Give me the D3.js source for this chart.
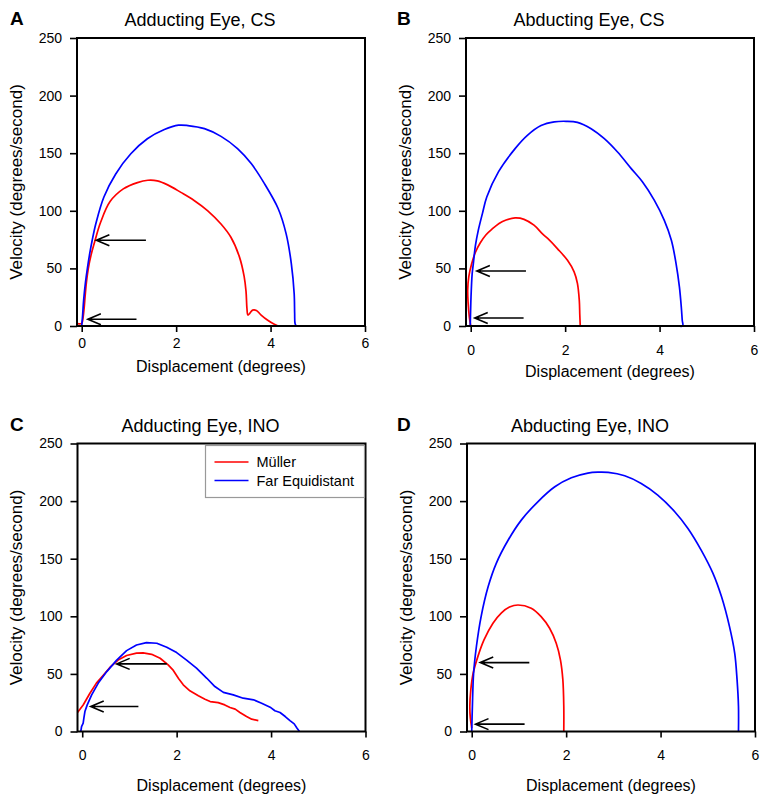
<!DOCTYPE html>
<html>
<head>
<meta charset="utf-8">
<script src="https://cdn.jsdelivr.net/npm/d3@7"></script>
<style>
  body { margin: 0; background: #fff; }
  svg { font-family: "Liberation Sans", Arial, sans-serif; }
</style>
</head>
<body>
<svg id="chart" width="768" height="804"></svg>
<script>
var xTicks = [0, 2, 4, 6];
var yTicks = [0, 50, 100, 150, 200, 250];
var seriesNames = ["Müller", "Far Equidistant"];
var seriesColors = ["#ff0000", "#0000ff"];

// [displacement, velocity]
var adductCsMuller = [[-0.1,2],[0,2.3],[0.02,5],[0.05,15],[0.07,25],[0.1,38],[0.14,50],[0.2,62],[0.28,74],[0.4,90],[0.6,108],[0.88,119],[1.18,124.5],[1.4,126.5],[1.6,126],[1.82,122.5],[2.1,116],[2.38,109],[2.67,100],[2.95,88.5],[3.16,77],[3.34,60],[3.44,43],[3.48,30],[3.5,15],[3.52,9.5],[3.56,11],[3.62,13.8],[3.7,13.5],[3.8,9.5],[3.94,5],[4.08,1.5],[4.16,0]];
var adductCsFar = [[0,0],[0.02,10],[0.04,22],[0.08,38],[0.12,50],[0.17,63],[0.22,74],[0.3,89],[0.47,112],[0.72,132],[1.04,149.5],[1.39,162.5],[1.75,170.5],[2.05,174.3],[2.25,174],[2.6,171.3],[2.95,164.6],[3.3,154],[3.59,141],[3.87,123.6],[4.16,102],[4.33,80],[4.44,54],[4.5,28],[4.51,11],[4.52,2],[4.55,0],[4.62,0]];

var abductCsMuller = [[0,0],[-0.03,8],[-0.055,20],[-0.064,31],[-0.04,43],[0.02,54],[0.1,64],[0.2,72],[0.32,79],[0.45,84],[0.6,89],[0.75,92],[0.94,93.8],[1.13,92.6],[1.34,87.5],[1.52,80],[1.63,76],[1.84,67],[2.05,57],[2.19,47],[2.26,37],[2.3,22],[2.31,10],[2.32,0]];
var abductCsFar = [[-0.01,0],[0.006,25],[0.03,45],[0.055,54],[0.1,70],[0.16,83],[0.25,98],[0.34,112],[0.59,134],[0.94,154],[1.2,165.5],[1.49,174],[1.77,177.2],[2.02,177.7],[2.26,176.8],[2.55,171.3],[2.83,162.6],[3.11,151],[3.4,136.6],[3.64,125],[3.89,109],[4.1,91.7],[4.25,74.4],[4.35,54],[4.42,34],[4.46,16.5],[4.48,5],[4.49,0],[4.39,0]];

var adductInoMuller = [[-0.1,16.5],[0.02,23],[0.16,33],[0.3,42],[0.45,49],[0.59,55.8],[0.76,62],[0.94,66],[1.15,68],[1.29,68.2],[1.47,67],[1.65,63.6],[1.82,57.8],[1.93,53],[2.04,46],[2.14,40.5],[2.28,35.3],[2.46,31],[2.6,28],[2.71,26],[2.88,25.1],[3.02,23.1],[3.13,20.8],[3.24,19.4],[3.34,16.5],[3.48,13],[3.59,10.7],[3.73,9.5]];
var adductInoFar = [[-0.03,0],[-0.014,4.3],[0.02,7.2],[0.035,11.6],[0.057,17.3],[0.106,23.1],[0.2,31.8],[0.34,42],[0.52,52],[0.73,62],[0.94,70.2],[1.15,75.1],[1.36,77.2],[1.58,76.6],[1.79,73.1],[2.0,68.5],[2.21,62],[2.42,55],[2.64,46.2],[2.81,39],[2.99,34],[3.2,31.8],[3.41,28.9],[3.63,27.5],[3.8,24.6],[3.98,21.1],[4.08,18],[4.19,16.5],[4.3,13],[4.4,9.5],[4.49,6.6],[4.54,3.5],[4.6,0]];

var abductInoMuller = [[0,3],[-0.03,12],[-0.04,22],[-0.02,36],[0.03,50.6],[0.13,65],[0.26,79.5],[0.45,94],[0.63,103],[0.8,108],[0.98,109.8],[1.26,107],[1.47,99.7],[1.65,89.6],[1.79,76.6],[1.88,62],[1.93,45],[1.95,22],[1.95,0]];
var abductInoFar = [[0,0],[0.014,21.7],[0.04,50.6],[0.1,74],[0.2,100],[0.35,126],[0.52,146],[0.77,166],[1.05,183.5],[1.4,199.4],[1.76,212.4],[2.11,220.2],[2.46,224.3],[2.67,225.1],[2.89,224.9],[3.24,222],[3.59,215.3],[3.94,205.2],[4.3,190.8],[4.58,176.3],[4.86,157.5],[5.11,137.3],[5.29,117.1],[5.46,91],[5.57,68],[5.62,45],[5.65,22],[5.65,0]];

// arrows: [tip displacement, velocity, tail displacement]
var arrowsA = [[0.31,74.4,1.36],[0.13,5.8,1.16]];
var arrowsB = [[0.13,47.7,1.17],[0.085,6.9,1.12]];
var arrowsC = [[0.73,58.7,1.79],[0.18,21.7,1.19]];
var arrowsD = [[0.18,59.8,1.22],[0.08,6.4,1.12]];

var panels = [
  {letter: "A", title: "Adducting Eye, CS", series: [adductCsMuller, adductCsFar], arrows: arrowsA,
   left: 77, top: 38, xPad: 6, xLabelY: 46, legend: false, curve: true},
  {letter: "B", title: "Abducting Eye, CS", series: [abductCsMuller, abductCsFar], arrows: arrowsB,
   left: 466, top: 38, xPad: 13, xLabelY: 51, legend: false, curve: true},
  {letter: "C", title: "Adducting Eye, INO", series: [adductInoMuller, adductInoFar], arrows: arrowsC,
   left: 77.5, top: 443.5, xPad: 13, xLabelY: 59, legend: true, curve: false},
  {letter: "D", title: "Abducting Eye, INO", series: [abductInoMuller, abductInoFar], arrows: arrowsD,
   left: 467, top: 443.5, xPad: 13, xLabelY: 59, legend: false, curve: true}
];

var w = 288, h = 288;
var svg = d3.select("#chart");

panels.forEach(function(p) {
  var x = d3.scaleLinear().domain([-0.1, 6]).range([0, w]);
  var y = d3.scaleLinear().domain([0, 250]).range([h, 0]);
  var g = svg.append("g").attr("transform", "translate(" + p.left + "," + p.top + ")");

  // panel letter and title
  g.append("text")
    .attr("x", p.left < 200 ? 10 - p.left : 397 - p.left)
    .attr("y", -13)
    .attr("font-size", 19).attr("font-weight", "bold")
    .text(p.letter);
  g.append("text")
    .attr("x", 123).attr("y", -12)
    .attr("text-anchor", "middle")
    .attr("font-size", 18)
    .text(p.title);

  // curves
  var line = d3.line()
    .x(function(d) { return x(d[0]); })
    .y(function(d) { return y(d[1]); })
    .curve(p.curve ? d3.curveCatmullRom.alpha(0.5) : d3.curveLinear);

  p.series.forEach(function(s, i) {
    g.append("path")
      .datum(s)
      .attr("d", line)
      .attr("fill", "none")
      .attr("stroke", seriesColors[i])
      .attr("stroke-width", 1.7)
      .attr("stroke-linejoin", "round");
  });

  // arrows
  var ag = g.append("g").attr("stroke", "#000").attr("stroke-width", 1.6).attr("fill", "none");
  p.arrows.forEach(function(a) {
    var tx = x(a[0]), ty = y(a[1]), ex = x(a[2]);
    ag.append("path")
      .attr("d", "M" + ex + "," + ty + "L" + tx + "," + ty +
        "M" + (tx + 13) + "," + (ty - 5.5) + "L" + tx + "," + ty + "L" + (tx + 13) + "," + (ty + 5.5));
  });

  // axes
  var yAxis = g.append("g")
    .call(d3.axisLeft(y).tickValues(yTicks).tickSize(7).tickPadding(8).tickFormat(d3.format("d")));
  var xAxis = g.append("g")
    .attr("transform", "translate(0," + h + ")")
    .call(d3.axisBottom(x).tickValues(xTicks).tickSize(6).tickPadding(p.xPad).tickFormat(d3.format("d")));
  [yAxis, xAxis].forEach(function(ax) {
    ax.select(".domain").remove();
    ax.selectAll("line").attr("stroke", "#000").attr("stroke-width", 1.6);
    ax.selectAll("text").attr("font-size", 14).attr("fill", "#000")
      .attr("font-family", "\"Liberation Sans\", Arial, sans-serif");
  });

  // frame
  g.append("rect")
    .attr("width", w).attr("height", h)
    .attr("fill", "none").attr("stroke", "#000").attr("stroke-width", 2);

  // axis labels
  g.append("text")
    .attr("x", w / 2).attr("y", h + p.xLabelY)
    .attr("text-anchor", "middle").attr("font-size", 16)
    .text("Displacement (degrees)");
  g.append("text")
    .attr("transform", "translate(-61," + (h / 2) + ") rotate(-90)")
    .attr("dy", "0.35em")
    .attr("text-anchor", "middle").attr("font-size", 17)
    .text("Velocity (degrees/second)");

  // legend
  if (p.legend) {
    var lg = g.append("g").attr("transform", "translate(128,2)");
    lg.append("rect")
      .attr("width", 159).attr("height", 52)
      .attr("fill", "#fff").attr("stroke", "#999").attr("stroke-width", 1.2);
    seriesNames.forEach(function(n, i) {
      var yy = 16.5 + i * 18.5;
      lg.append("line")
        .attr("x1", 9).attr("x2", 43).attr("y1", yy).attr("y2", yy)
        .attr("stroke", seriesColors[i]).attr("stroke-width", 1.7);
      lg.append("text")
        .attr("x", 51).attr("y", yy).attr("dy", "0.35em")
        .attr("font-size", 14.5)
        .text(n);
    });
  }
});
</script>
</body>
</html>
